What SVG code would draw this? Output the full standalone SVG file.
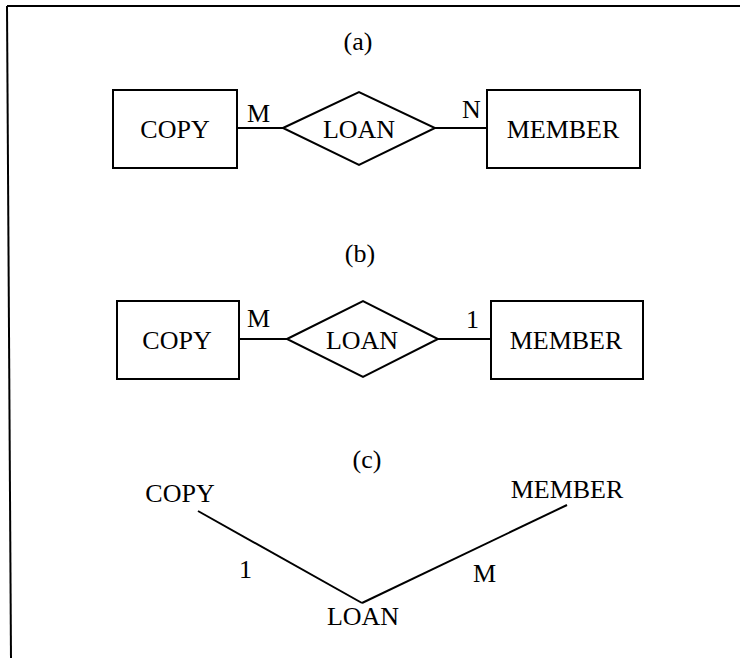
<svg xmlns="http://www.w3.org/2000/svg" width="740" height="658" viewBox="0 0 740 658">
  <style>
    .frame { fill: none; stroke: #000; stroke-width: 2; }
    .shape { fill: #fff; stroke: #000; stroke-width: 2; }
    .link { fill: none; stroke: #000; stroke-width: 2; }
    text { font-family: "Liberation Serif", "Times New Roman", serif; font-size: 26px; fill: #000; }
    .c { text-anchor: middle; }
  </style>
  <rect width="740" height="658" fill="#fff"/>

  <!-- page frame: top and left edges -->
  <g id="frame">
    <line class="frame" x1="7" y1="6" x2="740" y2="6"/>
    <line class="frame" x1="7" y1="6" x2="11" y2="658"/>
  </g>

  <!-- section captions -->
  <g id="captions">
    <text class="c" x="358" y="50">(a)</text>
    <text class="c" x="360" y="262">(b)</text>
    <text class="c" x="367" y="468">(c)</text>
  </g>

  <!-- connectors -->
  <g id="connectors">
    <line class="link" x1="237" y1="128" x2="283" y2="128"/>
    <line class="link" x1="435" y1="128" x2="487" y2="128"/>
    <line class="link" x1="239" y1="339" x2="287" y2="339"/>
    <line class="link" x1="438" y1="339" x2="491" y2="339"/>
    <line class="link" x1="198" y1="511" x2="362" y2="603"/>
    <line class="link" x1="362" y1="603" x2="567" y2="505"/>
  </g>

  <!-- (a) many-to-many -->
  <g id="a-copy">
    <rect class="shape" x="113" y="90" width="124" height="78"/>
    <text class="c" x="175" y="138">COPY</text>
  </g>
  <g id="a-loan">
    <polygon class="shape" points="283,128 359,92 435,128 359,165"/>
    <text class="c" x="359" y="138">LOAN</text>
  </g>
  <g id="a-member">
    <rect class="shape" x="487" y="90" width="153" height="78"/>
    <text class="c" x="563" y="138">MEMBER</text>
  </g>
  <g id="a-labels">
    <text x="247" y="122">M</text>
    <text x="462" y="118">N</text>
  </g>

  <!-- (b) many-to-one -->
  <g id="b-copy">
    <rect class="shape" x="117" y="301" width="122" height="78"/>
    <text class="c" x="177" y="349">COPY</text>
  </g>
  <g id="b-loan">
    <polygon class="shape" points="287,339 363,301 438,339 363,377"/>
    <text class="c" x="362" y="349">LOAN</text>
  </g>
  <g id="b-member">
    <rect class="shape" x="491" y="301" width="152" height="78"/>
    <text class="c" x="566" y="349">MEMBER</text>
  </g>
  <g id="b-labels">
    <text x="247" y="327">M</text>
    <text x="466" y="328">1</text>
  </g>

  <!-- (c) tree form -->
  <g id="c-copy">
    <text class="c" x="180" y="502">COPY</text>
  </g>
  <g id="c-member">
    <text class="c" x="567" y="498">MEMBER</text>
  </g>
  <g id="c-loan">
    <text class="c" x="363" y="625">LOAN</text>
  </g>
  <g id="c-labels">
    <text x="239" y="578">1</text>
    <text x="473" y="582">M</text>
  </g>
</svg>
